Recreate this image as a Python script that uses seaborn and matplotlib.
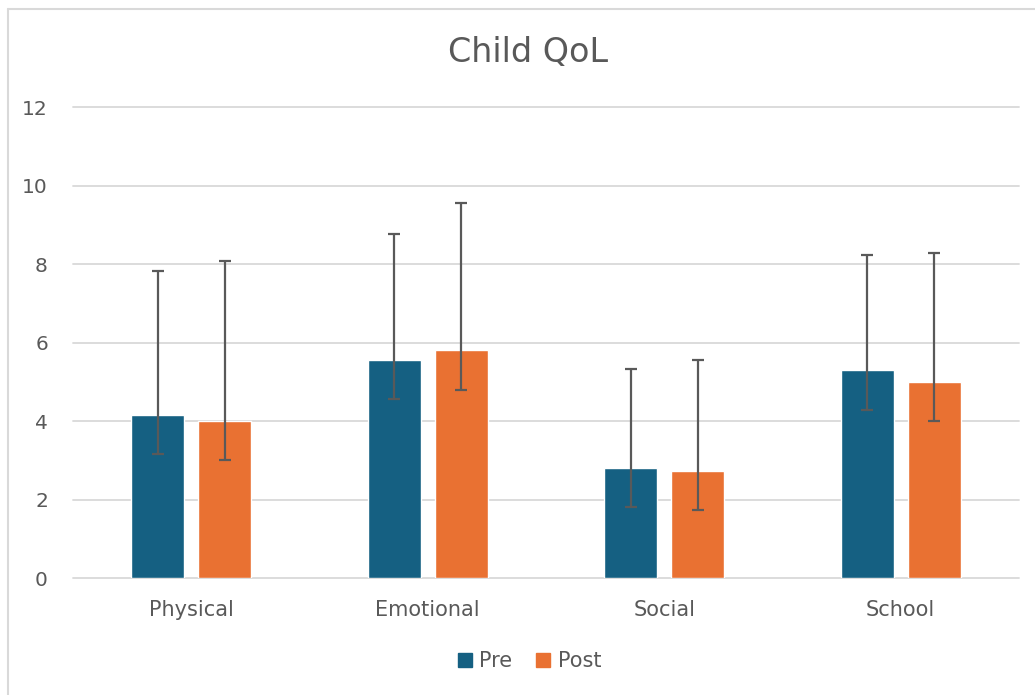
import numpy as np
import pandas as pd
import matplotlib
matplotlib.use('Agg')
import matplotlib.pyplot as plt
from matplotlib.lines import Line2D
import seaborn as sns

# values
domains = ['Physical', 'Emotional', 'Social', 'School']
pre_mean = [4.15, 5.55, 2.81, 5.29]
post_mean = [4.0, 5.8, 2.73, 5.0]
pre_err_low = [1.0, 1.0, 1.0, 1.0]
pre_err_high = [3.67, 3.21, 2.52, 2.95]
post_err_low = [1.0, 1.0, 1.0, 1.0]
post_err_high = [4.08, 3.75, 2.82, 3.27]

groups = ['Pre', 'Post']
colors = {'Pre': '#156082', 'Post': '#E97132'}
text_col = '#595959'
grid_col = '#D9D9D9'

df = pd.DataFrame({
    'domain': domains * 2,
    'group': ['Pre'] * len(domains) + ['Post'] * len(domains),
    'score': pre_mean + post_mean,
})

sns.set_theme(style='white')
plt.rcParams['font.family'] = ['DejaVu Sans']

fig = plt.figure(figsize=(10.35, 6.95), dpi=100)
ax = fig.add_axes([0.0705, 0.1683, 0.914, 0.6777])

sns.barplot(data=df, x='domain', y='score', hue='group', order=domains,
            hue_order=groups, palette=colors, width=0.567, gap=0.21,
            errorbar=None, saturation=1, legend=False, ax=ax)

# asymmetric error bars on top of each bar
errs = {'Pre': (pre_err_low, pre_err_high), 'Post': (post_err_low, post_err_high)}
for cont, g in zip(ax.containers, groups):
    xs = [p.get_x() + p.get_width() / 2 for p in cont.patches]
    hs = [p.get_height() for p in cont.patches]
    lo, hi = errs[g]
    ax.errorbar(xs, hs, yerr=[lo, hi], fmt='none', ecolor=text_col,
                elinewidth=1.6, capsize=4.5, capthick=1.6, zorder=5)

ax.set_ylim(0, 12)
ax.set_xlim(-0.5, 3.5)
ax.set_yticks(np.arange(0, 13, 2))
ax.yaxis.grid(True, color=grid_col, linewidth=1.3)
for gl in ax.get_ygridlines():
    gl.set_clip_on(False)
ax.set_axisbelow(True)
for s in ax.spines.values():
    s.set_visible(False)
ax.set_xlabel('')
ax.set_ylabel('')
ax.tick_params(axis='y', length=0, pad=18, labelsize=14.5, labelcolor=text_col)
ax.tick_params(axis='x', length=0, pad=16, labelsize=15, labelcolor=text_col)

fig.text(0.51, 1 - 52 / 695, 'Child QoL', ha='center', va='center',
         fontsize=24, color=text_col)

handles = [Line2D([], [], marker='s', linestyle='none', markersize=10,
                  markerfacecolor=colors[g], markeredgecolor=colors[g]) for g in groups]
leg = fig.legend(handles, groups, loc='center', bbox_to_anchor=(0.51, 1 - 661 / 695),
                 ncol=2, frameon=False, fontsize=15, handletextpad=0.2,
                 columnspacing=1.0, handlelength=1.0)
for t in leg.get_texts():
    t.set_color(text_col)

# outer chart border (top and left visible in the screenshot)
fig.add_artist(Line2D([8 / 1035, 1], [1 - 8.5 / 695, 1 - 8.5 / 695],
                      transform=fig.transFigure, color=grid_col, linewidth=1.5))
fig.add_artist(Line2D([8 / 1035, 8 / 1035], [0, 1 - 8.5 / 695],
                      transform=fig.transFigure, color=grid_col, linewidth=1.5))

fig.savefig('out.png', dpi=100)
